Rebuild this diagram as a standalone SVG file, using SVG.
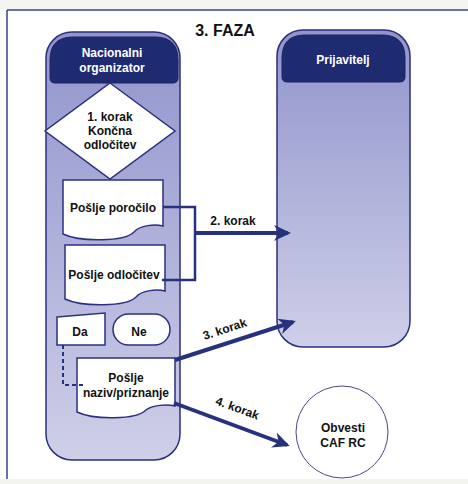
<svg xmlns="http://www.w3.org/2000/svg" width="468" height="484" viewBox="0 0 468 484">
<defs>
<linearGradient id="lane" x1="0" y1="0" x2="0" y2="1">
<stop offset="0" stop-color="#9194cc"/>
<stop offset="1" stop-color="#cecfe8"/>
</linearGradient>
<marker id="ah" markerUnits="userSpaceOnUse" markerWidth="18" markerHeight="18" viewBox="0 0 18 18" refX="14" refY="9" orient="auto">
<path d="M0,1 L17,9 L0,17 L5,9 Z" fill="#27327e"/>
</marker>
<style>
.lane{fill:url(#lane);stroke:#2b2f7e;stroke-width:1.5}
.hdr{fill:#1f2b70;stroke:#1a2568;stroke-width:1}
.doc{fill:#ffffff;stroke:#2b3080;stroke-width:1.5}
.t{font-family:"Liberation Sans",Arial,sans-serif;font-weight:bold;font-size:12px;fill:#111;text-anchor:middle}
.w{fill:#ffffff}
.con{fill:none;stroke:#27327e;stroke-width:2.5}
.arr{fill:none;stroke:#27327e;stroke-width:4;marker-end:url(#ah)}
.lbl{font-family:"Liberation Sans",Arial,sans-serif;font-weight:bold;font-size:12px;fill:#111;text-anchor:middle}
</style>
</defs>
<rect x="0" y="0" width="468" height="484" fill="#ffffff"/>
<rect x="0" y="0" width="468" height="9" fill="#f4f4f0"/>
<rect x="0" y="479" width="468" height="5" fill="#f3f3ef"/>
<g id="frame">
<line x1="7" y1="10" x2="468" y2="10" stroke="#3a3f8a" stroke-width="1.5"/>
<line x1="7" y1="10" x2="7" y2="479" stroke="#3a3f8a" stroke-width="1.5"/>
</g>
<text x="225" y="36" font-family="'Liberation Sans',Arial,sans-serif" font-weight="bold" font-size="16" fill="#111" text-anchor="middle">3. FAZA</text>

<g id="lane-nacionalni">
<rect class="lane" x="46" y="32" width="134" height="428" rx="26"/>
<path class="hdr" d="M50,60 Q50,37 73,37 H155 Q178,37 178,60 V78 Q178,83 173,83 H55 Q50,83 50,78 Z"/>
<text class="t w" x="112" y="57">Nacionalni</text>
<text class="t w" x="112" y="72">organizator</text>
</g>

<g id="lane-prijavitelj">
<rect class="lane" x="277" y="30" width="133" height="317" rx="26"/>
<path class="hdr" d="M282,58 Q282,35 305,35 H382 Q405,35 405,58 V77 Q405,82 400,82 H287 Q282,82 282,77 Z"/>
<text class="t w" x="343" y="64">Prijavitelj</text>
</g>

<g id="korak1">
<polygon points="110,83 175,131 110,179 45,131" fill="#ffffff" stroke="#2b3080" stroke-width="1.5"/>
<text class="t" x="110" y="121">1. korak</text>
<text class="t" x="110" y="135">Končna</text>
<text class="t" x="110" y="149">odločitev</text>
</g>

<g id="doc-porocilo">
<path class="doc" d="M63,180 H163 V226 C155,224 140,225 134,232 C124,242 80,242 63,234 Z"/>
<text class="t" x="113" y="212">Pošlje poročilo</text>
</g>

<g id="doc-odlocitev">
<path class="doc" d="M65,245 H165 V291 C157,289 142,290 136,297 C126,307 82,307 65,299 Z"/>
<text class="t" x="114" y="279">Pošlje odločitev</text>
</g>

<g id="da">
<polygon points="57,317 105,313 105,345 57,345" fill="#ffffff" stroke="#2b3080" stroke-width="1.5"/>
<text class="t" x="80" y="336">Da</text>
</g>

<g id="ne">
<rect x="113" y="314" width="57" height="31" rx="15.5" fill="#ffffff" stroke="#2b3080" stroke-width="1.5"/>
<text class="t" x="139" y="336">Ne</text>
</g>

<g id="doc-naziv">
<path class="doc" d="M77,358 H175 V406 C167,404 152,405 146,410 C136,420 94,420 77,412 Z"/>
<text class="t" x="126" y="382">Pošlje</text>
<text class="t" x="126" y="397">naziv/priznanje</text>
</g>

<g id="obvesti">
<circle cx="342" cy="432" r="46" fill="#ffffff" stroke="#4a4a8a" stroke-width="1"/>
<text class="t" x="343" y="432">Obvesti</text>
<text class="t" x="343" y="447">CAF RC</text>
</g>

<g id="connectors">
<polyline class="con" points="163,207 195,207 195,280 162,280"/>
<line class="arr" x1="195" y1="233" x2="288" y2="233"/>
<text class="lbl" x="233" y="225">2. korak</text>
<polyline points="63,345 63,385 85,385" fill="none" stroke="#27327e" stroke-width="2" stroke-dasharray="4,3"/>
<line class="arr" x1="175" y1="360" x2="293" y2="322"/>
<text class="lbl" x="226" y="333" transform="rotate(-18 226 333)">3. korak</text>
<line class="arr" x1="174" y1="403" x2="287" y2="445"/>
<text class="lbl" x="236" y="412" transform="rotate(20 236 412)">4. korak</text>
</g>
</svg>
